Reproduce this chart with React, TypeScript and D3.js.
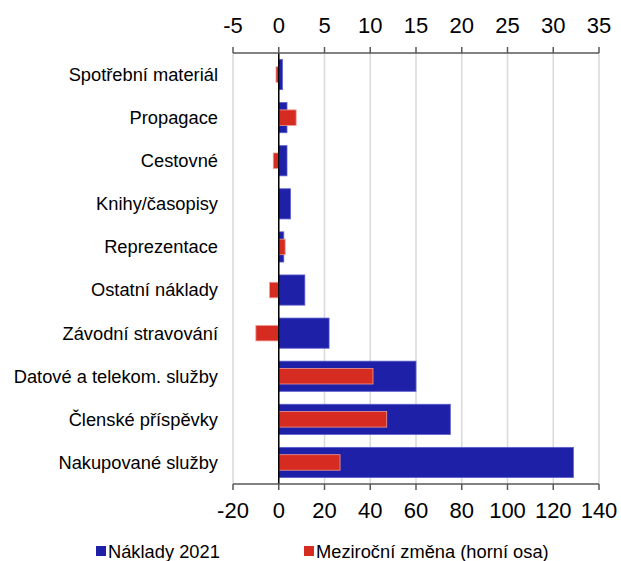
import React from "react";
import * as d3 from "d3";

const categories = [
  "Spotřební materiál",
  "Propagace",
  "Cestovné",
  "Knihy/časopisy",
  "Reprezentace",
  "Ostatní náklady",
  "Závodní stravování",
  "Datové a telekom. služby",
  "Členské příspěvky",
  "Nakupované služby",
];
const costs2021 = [1.6, 3.6, 3.6, 5.1, 2.2, 11.4, 22.0, 60.0, 75.0, 128.8];
const yoyChange = [-0.3, 1.9, -0.6, 0, 0.7, -1.0, -2.5, 10.3, 11.8, 6.7];
const bottomTicks = [-20, 0, 20, 40, 60, 80, 100, 120, 140];
const topTicks = [-5, 0, 5, 10, 15, 20, 25, 30, 35];
const seriesNames = ["Náklady 2021", "Meziroční změna (horní osa)"];

const W = 621;
const H = 561;
const left = 233;
const right = 599;
const top = 53;
const bottom = 484;
const BLUE = "#1f20a8";
const RED = "#d62b20";
const FONT = "Arial, 'Liberation Sans', sans-serif";

export default function App() {
  const xb = d3.scaleLinear().domain([-20, 140]).range([left, right]);
  const xt = d3.scaleLinear().domain([-5, 35]).range([left, right]);
  const y = d3.scaleBand<string>().domain(categories).range([top, bottom]).padding(0);
  const step = y.step();
  const blueH = step * 0.7;
  const redH = step * 0.36;

  return (
    <svg
      width={W}
      height={H}
      style={{ position: "absolute", left: 0, top: 0, background: "#fff" }}
      fontFamily={FONT}
    >
      {bottomTicks.map((t) => (
        <line
          key={"g" + t}
          x1={xb(t)}
          x2={xb(t)}
          y1={top}
          y2={bottom}
          stroke="#d9d9d9"
          strokeWidth={1.5}
        />
      ))}
      {categories.map((c, i) => {
        const v = costs2021[i];
        const x0 = xb(Math.min(0, v));
        const x1 = xb(Math.max(0, v));
        const cy = (y(c) as number) + step / 2;
        return (
          <rect
            key={"b" + c}
            x={x0}
            y={cy - blueH / 2}
            width={x1 - x0}
            height={blueH}
            fill={BLUE}
            stroke="#5a5ccc"
            strokeWidth={0.8}
          />
        );
      })}
      {categories.map((c, i) => {
        const v = yoyChange[i];
        if (v === 0) return null;
        const x0 = xt(Math.min(0, v));
        const x1 = xt(Math.max(0, v));
        const cy = (y(c) as number) + step / 2;
        return (
          <rect
            key={"r" + c}
            x={x0}
            y={cy - redH / 2}
            width={x1 - x0}
            height={redH}
            fill={RED}
            stroke="#ee9a94"
            strokeWidth={0.8}
          />
        );
      })}
      <line x1={xb(0)} x2={xb(0)} y1={top} y2={bottom} stroke="#000" strokeWidth={1.5} />
      <line x1={left} x2={right} y1={top} y2={top} stroke="#595959" strokeWidth={1.5} />
      {topTicks.map((t) => (
        <g key={"tt" + t}>
          <line x1={xt(t)} x2={xt(t)} y1={top - 6} y2={top} stroke="#595959" strokeWidth={1.5} />
          <text x={xt(t)} y={33} textAnchor="middle" fontSize={22} fill="#000">
            {t}
          </text>
        </g>
      ))}
      <line x1={left} x2={right} y1={bottom} y2={bottom} stroke="#595959" strokeWidth={1.5} />
      {bottomTicks.map((t) => (
        <g key={"bt" + t}>
          <line x1={xb(t)} x2={xb(t)} y1={bottom} y2={bottom + 6} stroke="#595959" strokeWidth={1.5} />
          <text x={xb(t)} y={518} textAnchor="middle" fontSize={22} fill="#000">
            {t}
          </text>
        </g>
      ))}
      {categories.map((c) => (
        <text
          key={"l" + c}
          x={218}
          y={(y(c) as number) + step / 2}
          dy="0.35em"
          textAnchor="end"
          fontSize={18.3}
          fill="#000"
        >
          {c}
        </text>
      ))}
      <rect x={96} y={546} width={10} height={10} fill={BLUE} />
      <text x={108} y={558} fontSize={18.3} fill="#000">
        {seriesNames[0]}
      </text>
      <rect x={304} y={546} width={10} height={10} fill={RED} />
      <text x={316} y={558} fontSize={18.3} fill="#000">
        {seriesNames[1]}
      </text>
    </svg>
  );
}
